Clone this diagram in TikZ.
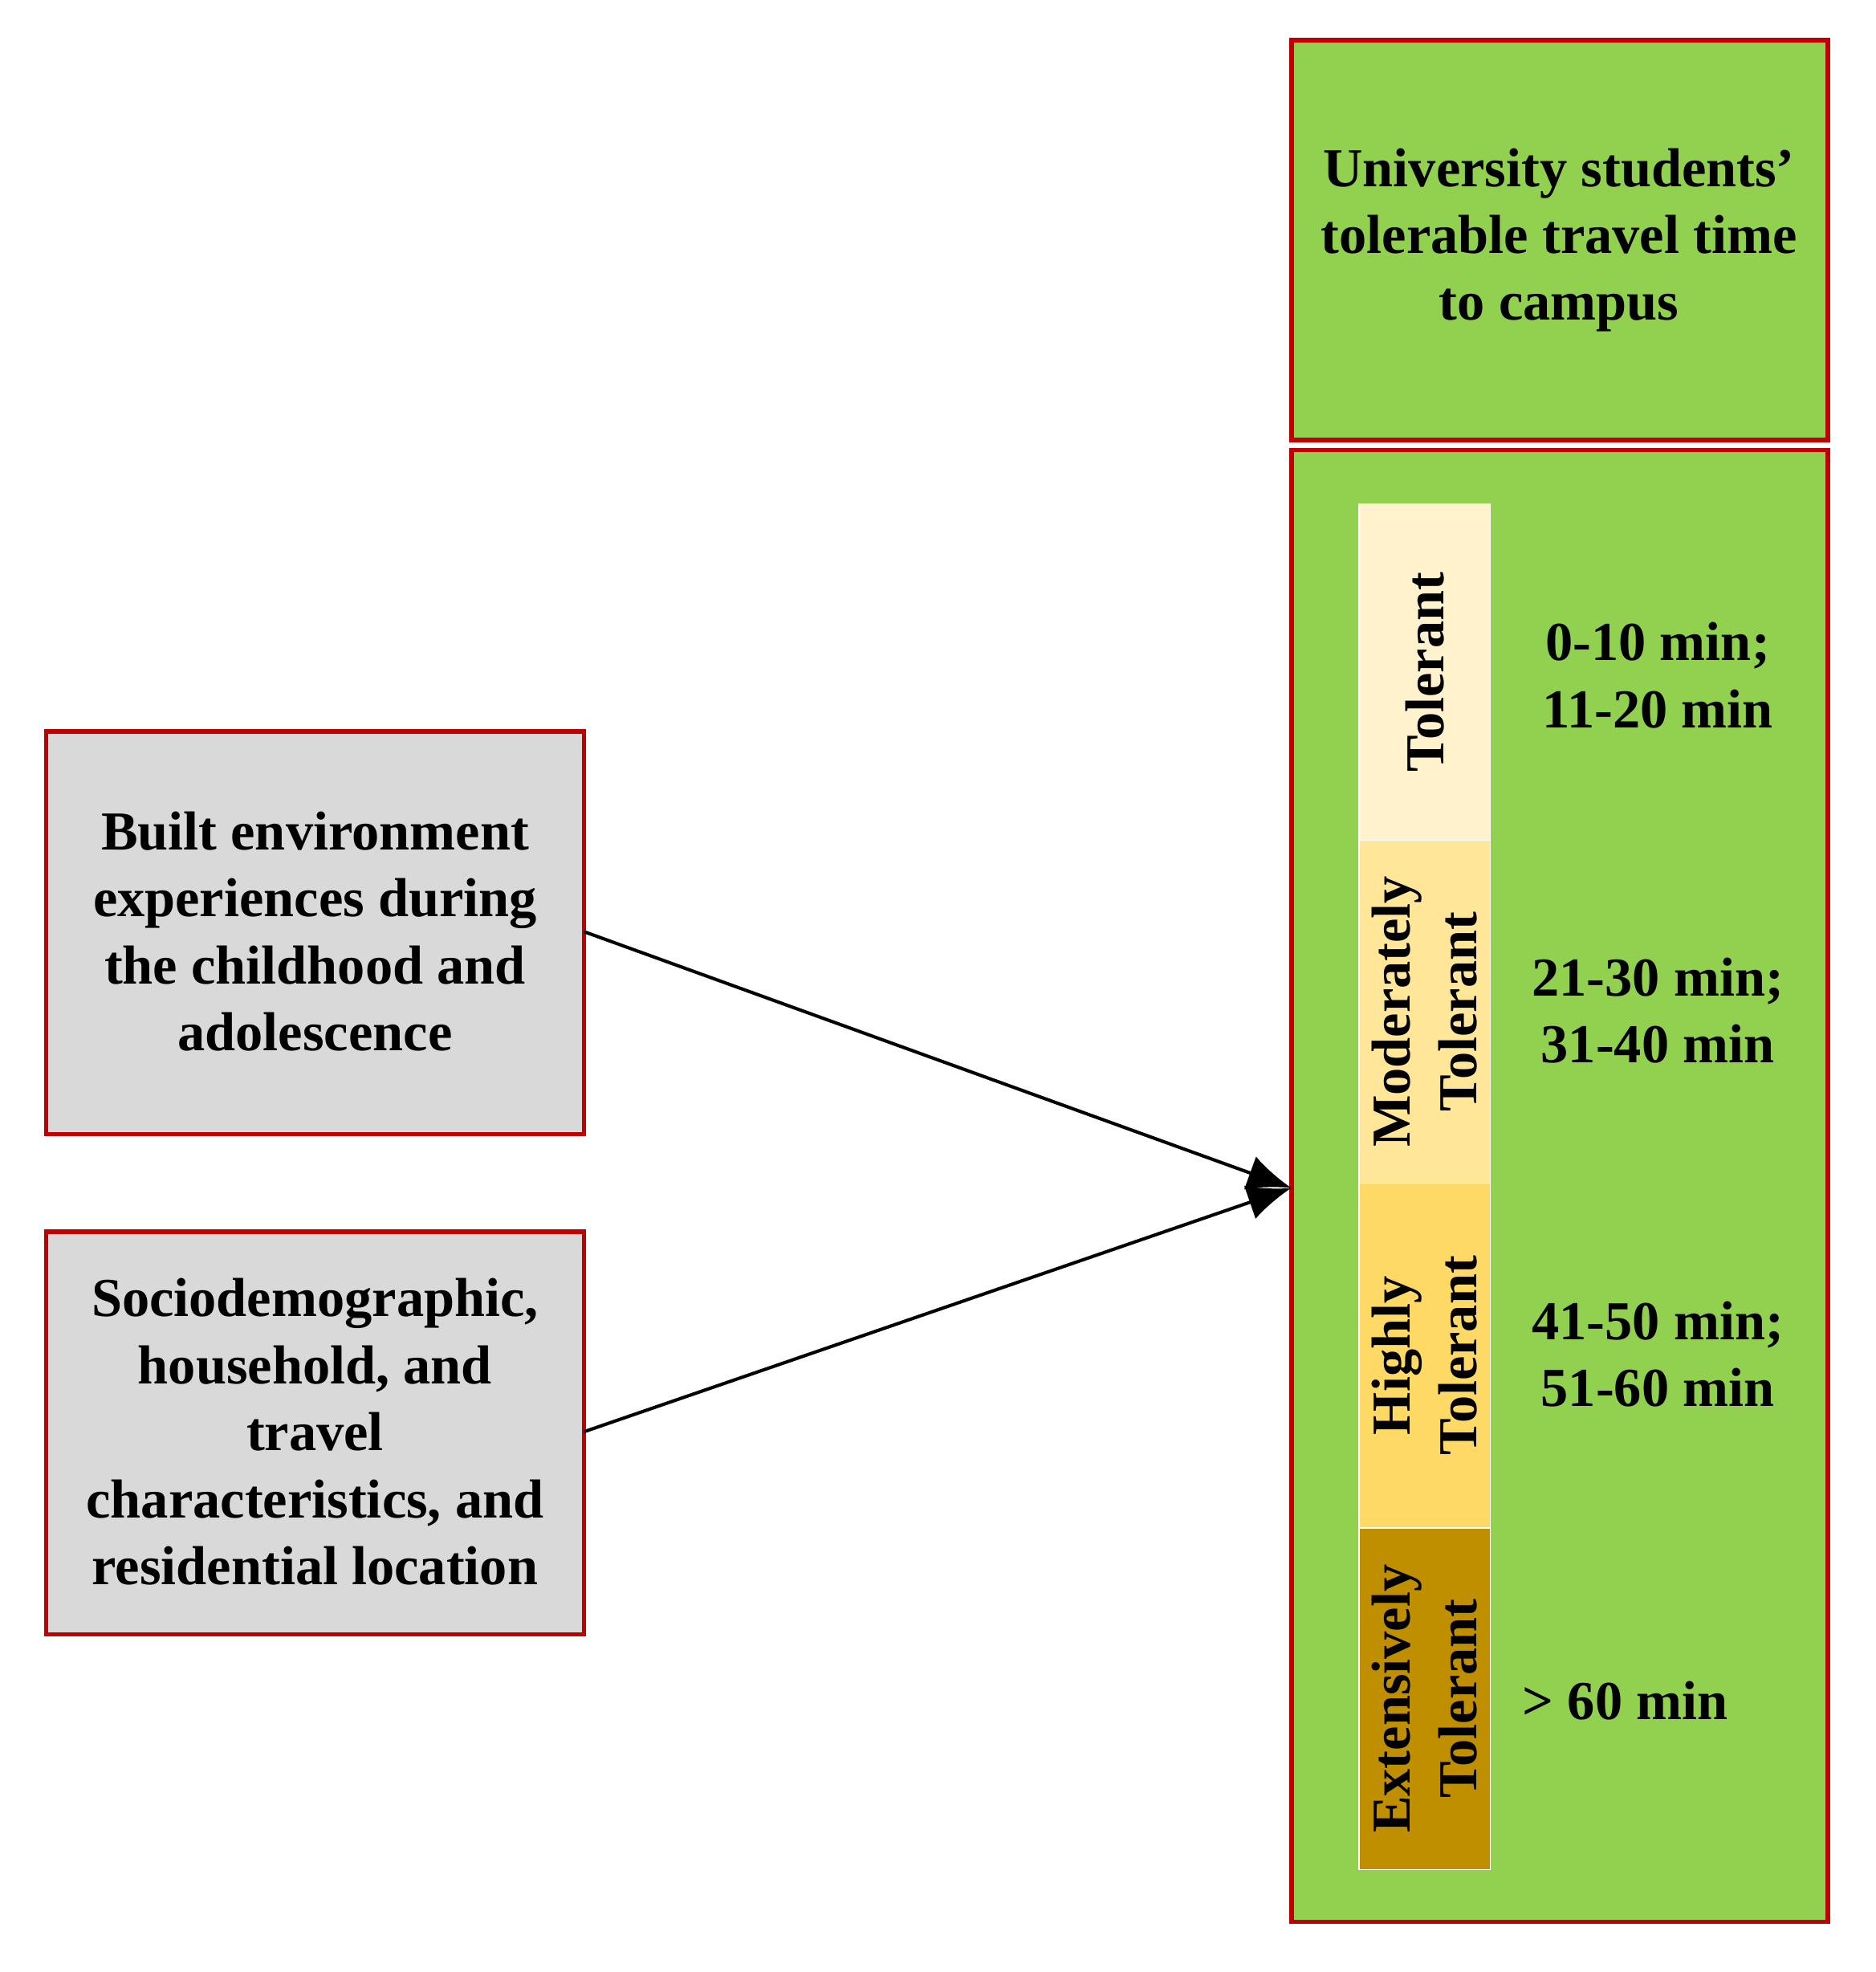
\documentclass[tikz,border=0pt]{standalone}
\usepackage{fontspec}
\setmainfont{Liberation Serif}
\usetikzlibrary{arrows.meta}
\definecolor{gr}{HTML}{92D050}
\definecolor{rd}{HTML}{C00000}
\definecolor{gy}{HTML}{D9D9D9}
\definecolor{c1}{HTML}{FFF2CC}
\definecolor{c2}{HTML}{FFE699}
\definecolor{c3}{HTML}{FFD966}
\definecolor{c4}{HTML}{BF8F00}
\begin{document}
\begin{tikzpicture}[x=0.02cm,y=-0.02cm,
  txt/.style={font=\fontsize{25}{30.5}\selectfont\bfseries,align=center},
  box/.style={draw=rd,line width=2pt},
  bar/.style={draw=white,line width=0.5pt,minimum width=2.1cm,minimum height=5.45cm,inner sep=0pt},
  arr/.style={line width=1.5pt,-{Latex[length=20pt,width=16pt]}}]
\useasboundingbox (0,0) rectangle (1500,1577);
\fill[white] (0,0) rectangle (1500,1577);
\draw[box,fill=gr] (1033,32) rectangle (1462,352);
\node[txt] (title) at (1247,192) {University students'\\tolerable travel time\\to campus};
\draw[box,fill=gr] (1033,360) rectangle (1462,1537);
\coordinate (tip) at (1033,950);
\node[bar,fill=c1,minimum height=5.38cm] (b1) at (1139.5,537.5) {};
\node[txt,rotate=90] at (b1) {Tolerant};
\node[bar,fill=c2,minimum height=5.48cm] (b2) at (1139.5,809) {};
\node[txt,rotate=90] at (b2) {Moderately\\Tolerant};
\node[bar,fill=c3,minimum height=5.52cm] (b3) at (1139.5,1084) {};
\node[txt,rotate=90] at (b3) {Highly\\Tolerant};
\node[bar,fill=c4,minimum height=5.46cm] (b4) at (1139.5,1358.5) {};
\node[txt,rotate=90] at (b4) {Extensively\\Tolerant};
\node[txt] (t1) at (1326,540) {0-10 min;\\11-20 min};
\node[txt] (t2) at (1326,808) {21-30 min;\\31-40 min};
\node[txt] (t3) at (1326,1083) {41-50 min;\\51-60 min};
\node[txt] (t4) at (1300,1360) {> 60 min};
\draw[box,fill=gy] (37,585) rectangle (467,907);
\node[txt] (l1) at (252,745) {Built environment\\experiences during\\the childhood and\\adolescence};
\draw[box,fill=gy] (37,985) rectangle (467,1307);
\node[txt] (l2) at (252,1145) {Sociodemographic,\\household, and\\travel\\characteristics, and\\residential location};
\coordinate (s1) at (467,745);
\coordinate (s2) at (467,1145);
\draw[arr] (s1) -- (tip);
\draw[arr] (s2) -- (tip);
\end{tikzpicture}
\end{document}
